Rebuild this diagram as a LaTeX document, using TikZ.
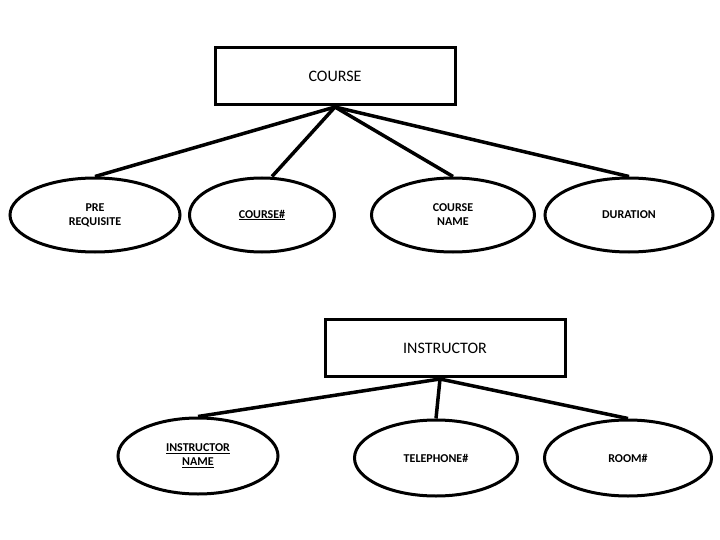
\documentclass[tikz,border=0pt]{standalone}
\usepackage{fontspec}
\setmainfont{Carlito}
\usetikzlibrary{shapes.geometric}
\begin{document}
\begin{tikzpicture}[x=1pt,y=-1pt,
  ent/.style={draw,line width=3pt,minimum width=240pt,minimum height=57pt,font=\fontsize{16}{19}\selectfont},
  att/.style={draw,ellipse,line width=3pt,minimum width=#1,minimum height=74pt,align=center,font=\bfseries\fontsize{12}{14}\selectfont},
  att/.default=165pt,
  con/.style={line width=3.5pt}]
\useasboundingbox (0,0) rectangle (720,540);
\node[ent] (course) at (335,76) {COURSE};
\node[att=170pt] (pre) at (95,215) {PRE\\REQUISITE};
\node[att=145pt] (cnum) at (262,215) {\underline{COURSE\#}};
\node[att=163pt] (cname) at (453,215) {COURSE\\NAME};
\node[att=168pt] (dur) at (629,215) {DURATION};
\coordinate (c0) at (335,107);
\draw[con] (c0) -- (pre.north);
\draw[con] (c0) -- ([xshift=10pt]cnum.north);
\draw[con] (c0) -- (cname.north);
\draw[con] (c0) -- (dur.north);
\node[ent] (ins) at (445,348) {INSTRUCTOR};
\node[att=160pt,minimum height=76pt] (iname) at (198,456) {\underline{INSTRUCTOR}\\\underline{NAME}};
\node[att=163pt,minimum height=76pt] (tel) at (436,458) {TELEPHONE\#};
\node[att=167pt,minimum height=76pt] (room) at (628,458) {ROOM\#};
\coordinate (i0) at (440,379);
\draw[con] (i0) -- (iname.north);
\draw[con] (i0) -- (tel.north);
\draw[con] (i0) -- (room.north);
\end{tikzpicture}
\end{document}
